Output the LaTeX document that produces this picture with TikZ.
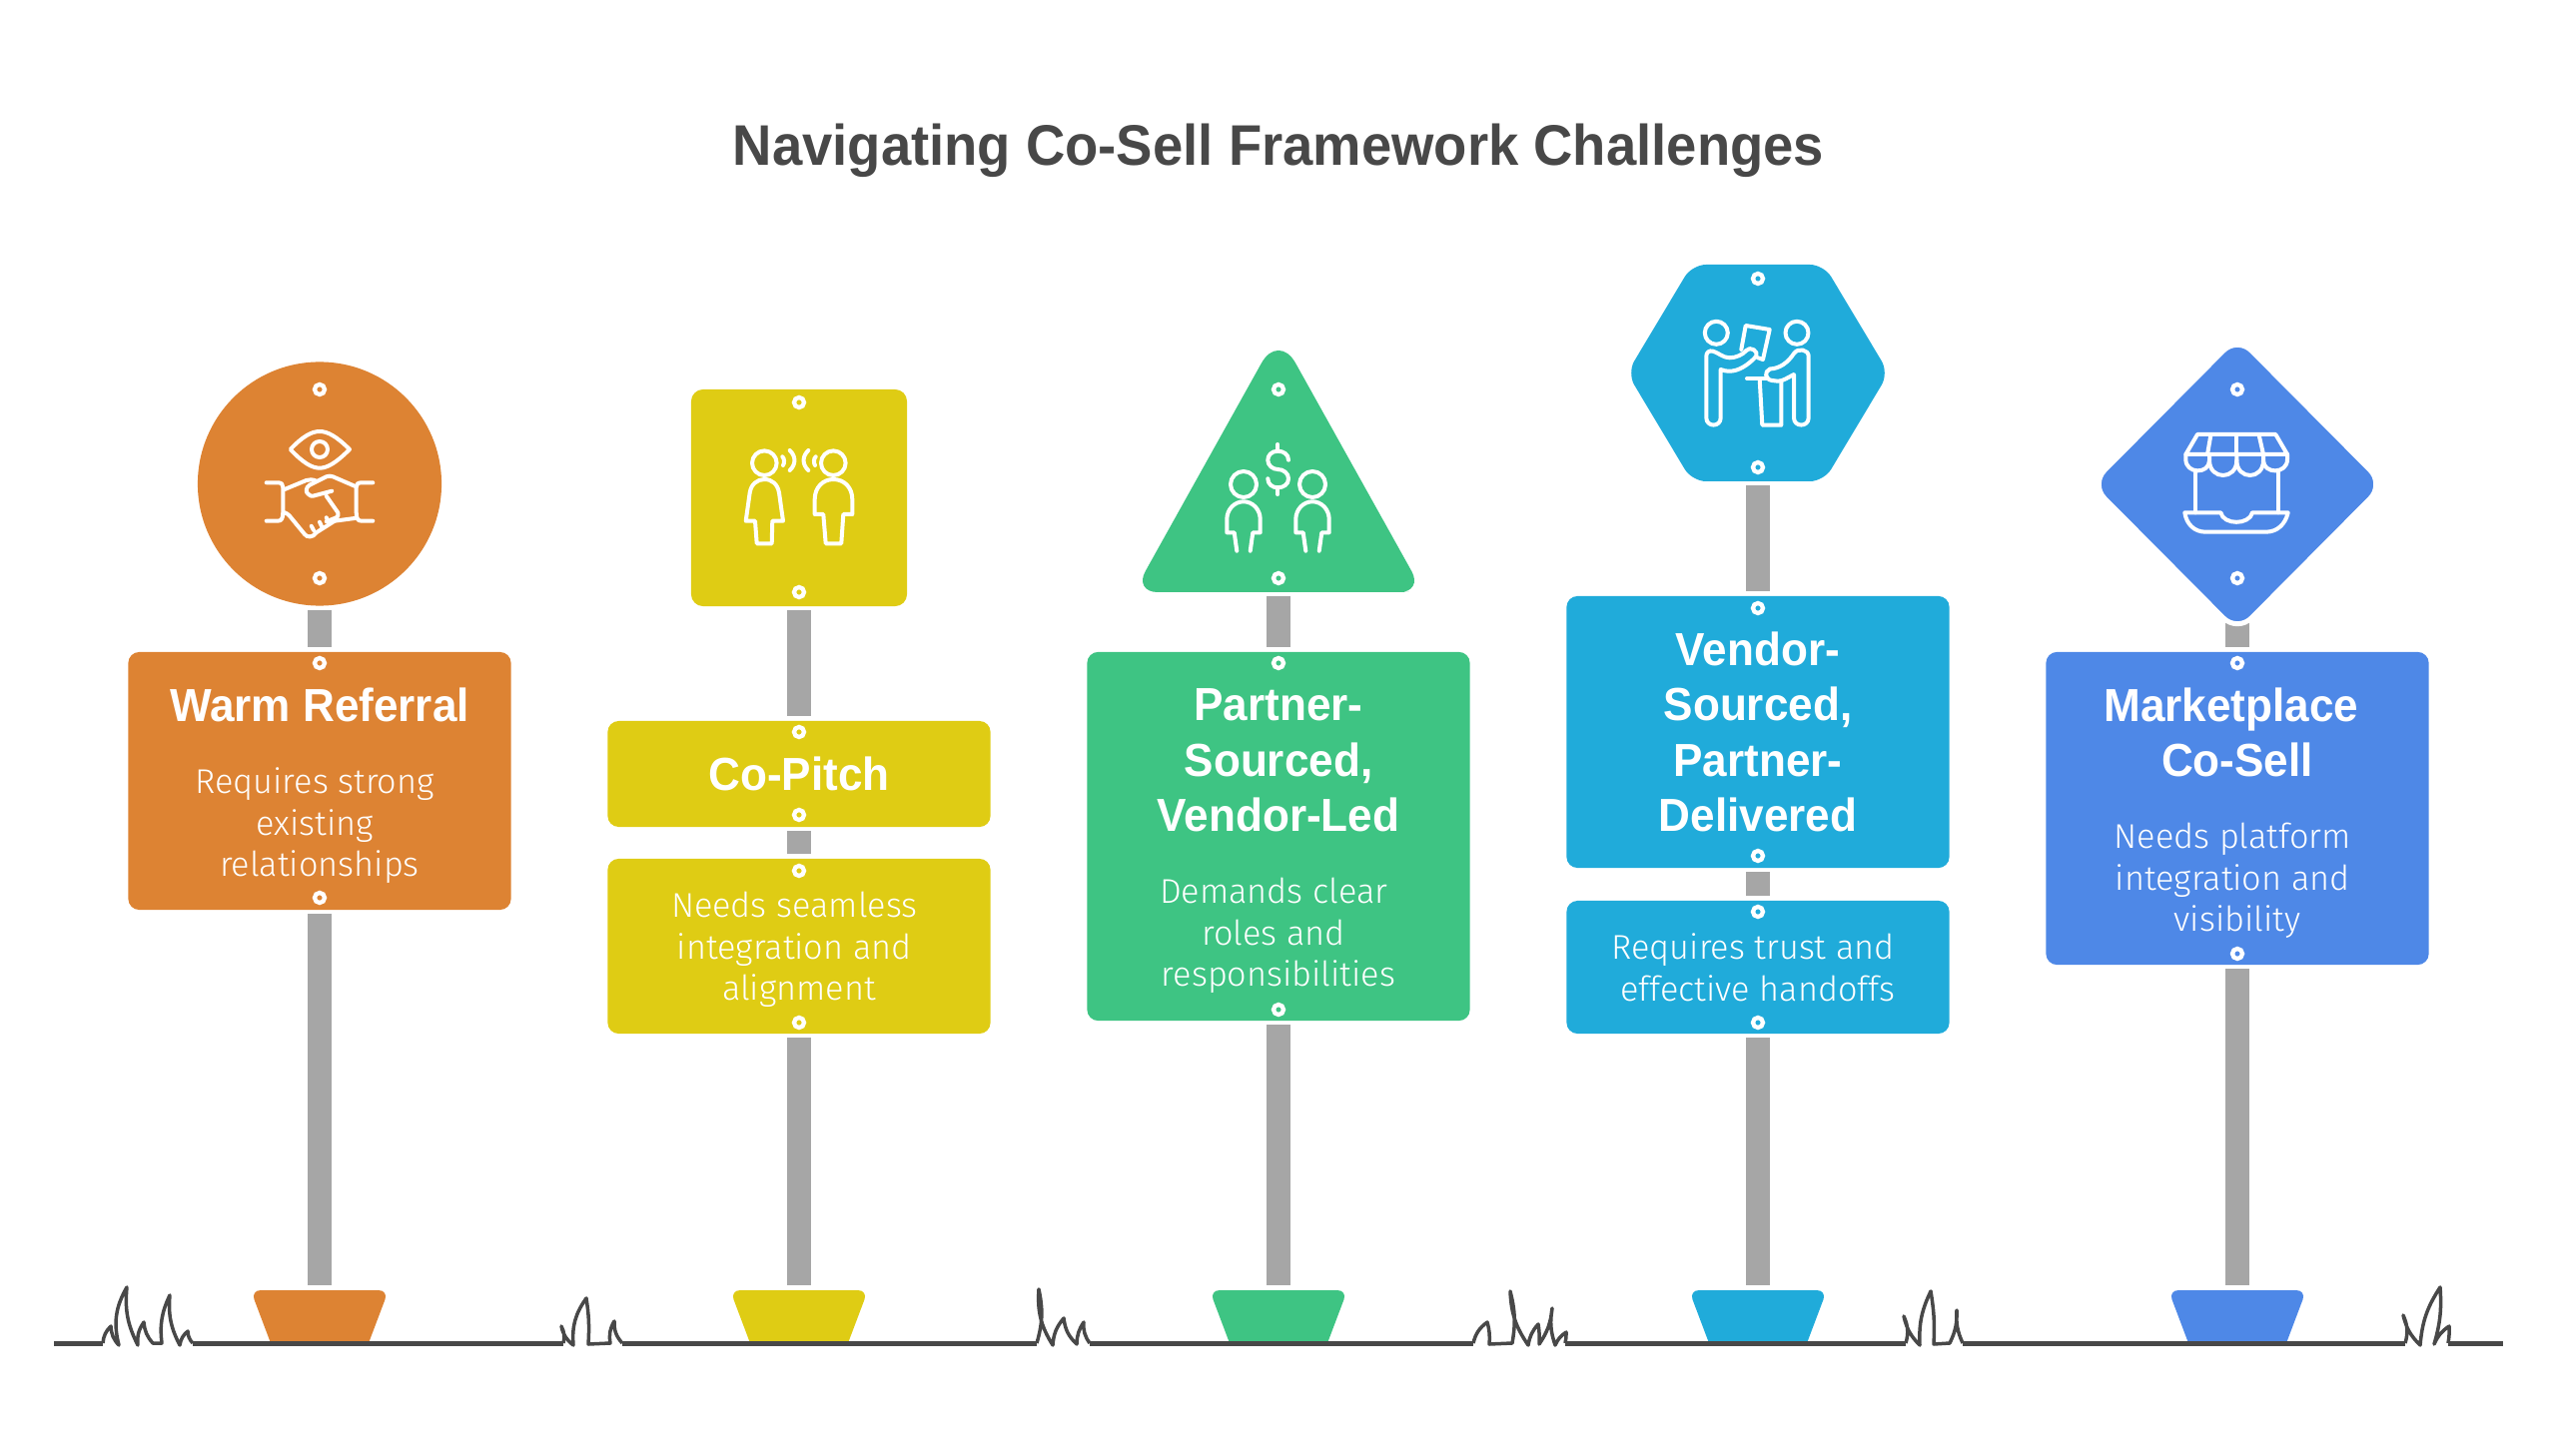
\documentclass[tikz,border=0pt]{standalone}
\usepackage{fontspec}
\setmainfont{Liberation Sans}[FakeStretch=0.95]
\newfontfamily\descfont{Fira Sans Light}
\usetikzlibrary{positioning}

\newcommand{\trail}{\ \mbox{}}

\definecolor{signA}{HTML}{DD8333}
\definecolor{signB}{HTML}{DFCC14}
\definecolor{signC}{HTML}{3EC483}
\definecolor{signD}{HTML}{20ABDA}
\definecolor{signE}{HTML}{4E88E7}
\definecolor{poleGray}{HTML}{A6A6A6}
\definecolor{inkGray}{HTML}{484848}

\tikzset{
    pole/.style={draw=poleGray,line width=0.24cm,shorten <=0.04cm,shorten >=0.05cm},
    card/.style={rectangle,rounded corners=0.11cm,minimum width=3.83cm,inner sep=0pt,outer sep=0pt},
    screw/.style={circle,draw=white,line width=0.043cm,minimum size=0.1cm,inner sep=0pt,outer sep=0pt},
    heading/.style={text=white,align=center,font=\fontsize{13.2}{15.8}\selectfont\bfseries},
    desc/.style={text=white,align=center,font=\fontsize{9.75}{11.8}\selectfont\descfont},
    icon/.style={draw=white,line width=0.04cm,line cap=round,line join=round},
    ground/.style={draw=inkGray,line width=0.05cm,line join=round},
    blade/.style={draw=inkGray,line width=0.035cm,line join=round}
}

\begin{document}
\begin{tikzpicture}[x=0.01cm,y=-0.01cm]
    \useasboundingbox (0,0) rectangle (2560,1458);

    \node (title) at (1280,151) [text=inkGray,font=\fontsize{16.3}{20}\selectfont\bfseries] {Navigating Co-Sell Framework Challenges};

    % feet
    \coordinate (baseA) at (320,1292);
    \coordinate (baseB) at (800,1292);
    \coordinate (baseC) at (1280,1292);
    \coordinate (baseD) at (1760,1292);
    \coordinate (baseE) at (2240,1292);
    \fill [signA,shift={(320,0)}] (-49,1345) [rounded corners=0.1cm] -- (-69,1292) -- (69,1292) [sharp corners] -- (49,1345) -- cycle;
    \fill [signB,shift={(800,0)}] (-49,1345) [rounded corners=0.1cm] -- (-69,1292) -- (69,1292) [sharp corners] -- (49,1345) -- cycle;
    \fill [signC,shift={(1280,0)}] (-49,1345) [rounded corners=0.1cm] -- (-69,1292) -- (69,1292) [sharp corners] -- (49,1345) -- cycle;
    \fill [signD,shift={(1760,0)}] (-49,1345) [rounded corners=0.1cm] -- (-69,1292) -- (69,1292) [sharp corners] -- (49,1345) -- cycle;
    \fill [signE,shift={(2240,0)}] (-49,1345) [rounded corners=0.1cm] -- (-69,1292) -- (69,1292) [sharp corners] -- (49,1345) -- cycle;

    % ground and grass
    \coordinate (g0) at (54,1345);
    \coordinate (g1) at (103,1345);
    \coordinate (g2) at (193,1345);
    \coordinate (g3) at (564,1345);
    \coordinate (g4) at (623,1345);
    \coordinate (g5) at (1038,1345);
    \coordinate (g6) at (1091,1345);
    \coordinate (g7) at (1475,1345);
    \coordinate (g8) at (1567,1345);
    \coordinate (g9) at (1908,1345);
    \coordinate (g10) at (1965,1345);
    \coordinate (g11) at (2408,1345);
    \coordinate (g12) at (2451,1345);
    \coordinate (g13) at (2506,1345);
    \draw [ground] (g0) -- (g1);
    \draw [ground] (g2) -- (g3);
    \draw [ground] (g4) -- (g5);
    \draw [ground] (g6) -- (g7);
    \draw [ground] (g8) -- (g9);
    \draw [ground] (g10) -- (g11);
    \draw [ground] (g12) -- (g13);

    \draw [blade] (g1) to[bend left=20] (111,1328) to[bend right=20] (119,1347) to[bend left=22] (127,1289) to[bend right=16] (138,1347) to[bend left=20] (144,1324) to[bend right=18] (153,1345) -- (162,1345) to[bend left=16] (170,1297) to[bend right=16] (180,1347) to[bend left=20] (188,1333) to[bend right=20] (g2);
    \draw [blade] (g3) to[bend right=20] (562,1328) to[bend right=20] (574,1347) to[bend left=20] (587,1300) to[bend left=6] (589,1346) -- (611,1345) to[bend left=20] (615,1323) to[bend right=22] (g4);
    \draw [blade] (g5) to[bend right=14] (1040,1291) to[bend right=18] (1054,1347) to[bend left=18] (1065,1320) to[bend right=20] (1078,1346) to[bend left=16] (1085,1324) to[bend right=20] (g6);
    \draw [blade] (g7) to[bend left=20] (1489,1324) to[bend left=10] (1491,1346) -- (1514,1345) to[bend right=12] (1512,1293) to[bend right=16] (1530,1347) to[bend left=16] (1540,1326) to[bend left=6] (1541,1346) to[bend right=14] (1554,1310) to[bend right=14] (1557,1347) to[bend left=16] (1568,1334) to[bend left=6] (g8);
    \draw [blade] (g9) to[bend right=20] (1906,1318) to[bend right=16] (1922,1347) to[bend left=14] (1933,1293) to[bend left=6] (1936,1346) -- (1952,1345) to[bend right=14] (1959,1312) to[bend right=14] (g10);
    \draw [blade] (g11) to[bend right=20] (2406,1317) to[bend right=16] (2423,1347) to[bend left=14] (2443,1289) to[bend left=10] (2437,1346) to[bend left=16] (2452,1328) to[bend left=6] (g12);

    % signs, first the ones that are nodes
    \node (signA) at (320,484.5) [circle,fill=signA,minimum size=2.44cm,inner sep=0pt,outer sep=0pt] {};
    \node (signB) at (800,498.5) [rectangle,rounded corners=0.12cm,fill=signB,minimum width=2.16cm,minimum height=2.17cm,inner sep=0pt,outer sep=0pt] {};
    \coordinate (signC) at (1280,593);
    \coordinate (signD) at (1760,482);
    \coordinate (signE) at (2240,600);

    \node (cardA) at (320,782) [card,fill=signA,minimum height=2.58cm] {};
    \node (cardB) at (800,775) [card,fill=signB,minimum height=1.06cm] {};
    \node (noteB) at (800,947.5) [card,fill=signB,minimum height=1.75cm] {};
    \node (cardC) at (1280,837.5) [card,fill=signC,minimum height=3.69cm] {};
    \node (cardD) at (1760,733) [card,fill=signD,minimum height=2.72cm] {};
    \node (noteD) at (1760,968.5) [card,fill=signD,minimum height=1.33cm] {};
    \node (cardE) at (2240,809.5) [card,fill=signE,minimum height=3.13cm] {};

    % posts
    \draw [pole] (signA.south) -- (cardA.north);
    \draw [pole] (cardA.south) -- (baseA);
    \draw [pole] (signB.south) -- (cardB.north);
    \draw [pole] (cardB.south) -- (noteB.north);
    \draw [pole] (noteB.south) -- (baseB);
    \draw [pole] (signC) -- (cardC.north);
    \draw [pole] (cardC.south) -- (baseC);
    \draw [pole] (signD) -- (cardD.north);
    \draw [pole] (cardD.south) -- (noteD.north);
    \draw [pole] (noteD.south) -- (baseD);
    \draw [pole] (signE) -- (cardE.north);
    \draw [pole] (cardE.south) -- (baseE);

    % signs that are plain paths
    \fill [signC] (1280,593) [rounded corners=0.24cm] -- (1425,593) -- (1135,593) [rounded corners=0.35cm] -- (1280,333) [rounded corners=0.24cm] -- (1425,593) [sharp corners] -- cycle;
    \fill [signD,rounded corners=0.14cm] (1694,265) -- (1826,265) -- (1891,373.5) -- (1826,482) -- (1694,482) -- (1629,373.5) -- cycle;
    \filldraw [fill=signE,draw=white,line width=0.05cm,rounded corners=0.2cm] (2240,337) -- (2387,485) -- (2240,633) -- (2093,485) -- cycle;

    % screws
    \begin{scope}[every node/.style={screw}]
        \node (a1) at (320,390) {};
        \node (a2) at (320,579) {};
        \node (a3) at (320,664) {};
        \node (a4) at (320,899) {};
        \node (b1) at (800,403) {};
        \node (b2) at (800,593) {};
        \node (b3) at (800,733) {};
        \node (b4) at (800,816) {};
        \node (b5) at (800,872) {};
        \node (b6) at (800,1024) {};
        \node (c1) at (1280,390) {};
        \node (c2) at (1280,579) {};
        \node (c3) at (1280,664) {};
        \node (c4) at (1280,1011) {};
        \node (d1) at (1760,279) {};
        \node (d2) at (1760,468) {};
        \node (d3) at (1760,609) {};
        \node (d4) at (1760,857) {};
        \node (d5) at (1760,913) {};
        \node (d6) at (1760,1024) {};
        \node (e1) at (2240,390) {};
        \node (e2) at (2240,579) {};
        \node (e3) at (2240,664) {};
        \node (e4) at (2240,955) {};
    \end{scope}

    % texts
    \node (headA) at (320,705.5) [heading] {Warm Referral};
    \node (textA) at (320,827) [desc] {Requires strong\trail\\existing\trail\\relationships};
    \node (headB) at (800,775) [heading] {Co-Pitch};
    \node (textB) at (800,951) [desc] {Needs seamless\trail\\integration and\trail\\alignment};
    \node (headC) at (1280,761.5) [heading] {Partner-\\Sourced,\\Vendor-Led};
    \node (textC) at (1280,937) [desc] {Demands clear\trail\\roles and\trail\\responsibilities};
    \node (headD) at (1760,733) [heading] {Vendor-\\Sourced,\\Partner-\\Delivered};
    \node (textD) at (1760,969) [desc] {Requires trust and\trail\\effective handoffs};
    \node (headE) at (2240,733.5) [heading] {Marketplace\trail\\Co-Sell};
    \node (textE) at (2240,882) [desc] {Needs platform\trail\\integration and\trail\\visibility};

    % eye and handshake
    \draw [icon] (290.7,450) .. controls (303,437) and (312,432) .. (320,432) .. controls (328,432) and (337,437) .. (350,450) .. controls (337,463) and (328,468.7) .. (320,468.7) .. controls (312,468.7) and (303,463) .. (290.7,450) -- cycle;
    \draw [icon] (320,450) circle [radius=8];
    \draw [icon] (266.7,483.3) -- (278,483.3) .. controls (282,483.3) and (283.3,485) .. (283.3,488) -- (283.3,513) .. controls (283.3,519) and (282,521.7) .. (278,521.7) -- (266.7,521.7);
    \draw [icon] (373.3,483.3) -- (362,483.3) .. controls (358,483.3) and (356.7,485) .. (356.7,488) -- (356.7,513) .. controls (356.7,519) and (358,521.7) .. (362,521.7) -- (373.3,521.7);
    \draw [icon] (285,490) -- (306.7,481) .. controls (310,480) and (313,480) .. (316.7,481.7);
    \draw [icon] (355,486.7) -- (333.3,477.3) .. controls (331,476.5) and (329,476.5) .. (326.7,477.3) -- (310,485.7) .. controls (306,488) and (306,493) .. (308.3,494.5) .. controls (310,496.5) and (312,497) .. (313.3,496.7) -- (332.3,491.7);
    \draw [icon] (326.7,496.7) -- (338.3,513.3) .. controls (339,516) and (338.5,517.5) .. (336.7,518.3) -- (326.7,522.3);
    \draw [icon] (285,513.3) .. controls (287,514) and (288.5,515) .. (290,516.7) -- (305,535) .. controls (307,538) and (313,539) .. (316.7,533.3) -- (335,521.7) -- (355,519);
    \draw [icon] (311.7,526.7) -- (314,531);
    \draw [icon] (320,522.7) -- (322.3,527.7);
    \draw [icon] (326.7,518.3) -- (329.3,523.3);

    % two people talking
    \draw [icon] (765.3,463.7) circle [radius=12.3];
    \draw [icon] (834.3,463.7) circle [radius=12.3];
    \draw [icon] (746.7,521.7) -- (750.7,493.3) .. controls (752,485) and (758,480) .. (765.3,480) .. controls (773,480) and (778.5,485) .. (780,493.3) -- (784,521.7) -- (773.3,521.7) -- (772.7,544.3) -- (757.7,544.3) -- (756,521.7) -- cycle;
    \draw [icon] (815.7,515) -- (815.7,500) .. controls (815.7,488) and (824,480) .. (834.3,480) .. controls (845,480) and (853.3,488) .. (853.3,500) -- (853.3,515) -- (844.3,515) -- (842.3,544.3) -- (826.7,544.3) -- (824.3,515) -- cycle;
    \draw [icon] (783.3,457.3) .. controls (785.5,459) and (785.5,464) .. (784,466);
    \draw [icon] (790.7,451) .. controls (797,457) and (797,465) .. (790.7,471);
    \draw [icon] (816.7,457.3) .. controls (814.5,459) and (814.5,464) .. (816,466);
    \draw [icon] (809.3,451) .. controls (803,457) and (803,465) .. (809.3,471);

    % two people and a dollar
    \draw [icon] (1279.3,445) -- (1279.3,451.7);
    \draw [icon] (1279.3,488.3) -- (1279.3,495);
    \draw [icon] (1290,460.7) .. controls (1290,455) and (1285,451.7) .. (1279.3,451.7) .. controls (1273,451.7) and (1269.3,456) .. (1269.3,460.7) .. controls (1269.3,466) and (1274,470) .. (1279.3,470) .. controls (1285,470) and (1290,474) .. (1290,479.3) .. controls (1290,485) and (1285,488.3) .. (1279.3,488.3) .. controls (1274,488.3) and (1269.3,485) .. (1269.3,479.3);
    \draw [icon] (1245,485) circle [radius=13];
    \draw [icon] (1314,485) circle [radius=13];
    \draw [icon] (1238.3,551.7) -- (1235.7,533.3) -- (1228.3,533.3) -- (1228.3,520) .. controls (1228.3,510) and (1236,502.3) .. (1245,502.3) .. controls (1254,502.3) and (1261.7,510) .. (1261.7,520) -- (1261.7,533.3) -- (1254.3,533.3) -- (1251.7,551.7);
    \draw [icon] (1307.3,551.7) -- (1304.7,533.3) -- (1297.3,533.3) -- (1297.3,520) .. controls (1297.3,510) and (1305,502.3) .. (1314,502.3) .. controls (1323,502.3) and (1330.7,510) .. (1330.7,520) -- (1330.7,533.3) -- (1323.3,533.3) -- (1320.7,551.7);

    % handing over a paper
    \draw [icon] (1718.3,333.3) circle [radius=11.5];
    \draw [icon] (1799,333.3) circle [radius=11.5];
    \draw [icon] (1708.3,356.7) -- (1708.3,418.3) .. controls (1708.3,428) and (1722.7,428) .. (1722.7,418.3) -- (1722.7,370) .. controls (1726,371.5) and (1729,371.7) .. (1731.7,371.7) .. controls (1740,371.7) and (1750,366) .. (1758.3,356.7) .. controls (1761,352) and (1752,346) .. (1748.3,351) .. controls (1745,355) and (1738,358.3) .. (1731.7,358.3) .. controls (1725,358.3) and (1720,353) .. (1715,351.7) .. controls (1711,350.5) and (1708.3,353) .. (1708.3,356.7);
    \draw [icon] (1743.3,350) -- (1747.7,326) -- (1771.7,330) -- (1765,360) -- (1760,358.3);
    \draw [icon] (1810.7,356.7) -- (1810.7,418.3) .. controls (1810.7,428) and (1796,428) .. (1796,418.3) -- (1796,375) .. controls (1790,378) and (1785,381.7) .. (1780,381.7) -- (1774,381) .. controls (1767,380) and (1766,372) .. (1772,369.5) .. controls (1782,369) and (1790,363) .. (1796,354) .. controls (1800,348) and (1810.7,350) .. (1810.7,356.7);
    \draw [icon] (1749,379) -- (1770,379);
    \draw [icon] (1761.7,380) -- (1764.3,425.7) -- (1783.3,425.7) -- (1783.3,381.7);

    % shop front
    \draw [icon] (2188.3,455) -- (2200,435) -- (2278.3,435) -- (2290,455) -- cycle;
    \draw [icon] (2213.3,436) -- (2210,455);
    \draw [icon] (2239.3,436) -- (2239.3,455);
    \draw [icon] (2261.7,436) -- (2266,455);
    \draw [icon] (2188.3,455) -- (2188.3,460) .. controls (2188.3,475) and (2212,475) .. (2212,461) -- (2212,455);
    \draw [icon] (2212,461) .. controls (2212,481) and (2239.3,481) .. (2239.3,461) -- (2239.3,455);
    \draw [icon] (2239.3,461) .. controls (2239.3,481) and (2266,481) .. (2266,461) -- (2266,455);
    \draw [icon] (2266,461) .. controls (2266,475) and (2290,475) .. (2290,460) -- (2290,455);
    \draw [icon] (2198.3,473) -- (2198.3,513.3);
    \draw [icon] (2281,473) -- (2281,513.3);
    \draw [icon] (2187.3,513.3) -- (2223.3,513.3) .. controls (2226,526) and (2252,526) .. (2255,513.3) -- (2290.7,513.3) .. controls (2288,525) and (2280,532.7) .. (2268.3,532.7) -- (2208.3,532.7) .. controls (2197,532.7) and (2189,525) .. (2187.3,513.3) -- cycle;
\end{tikzpicture}
\end{document}
